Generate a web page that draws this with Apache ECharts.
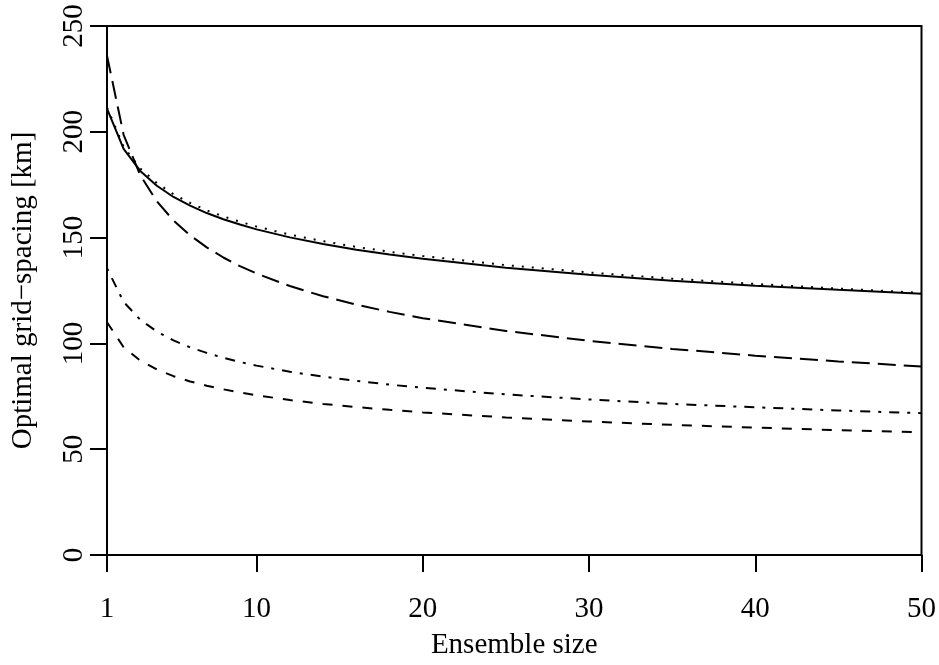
<!DOCTYPE html>
<html>
<head>
<meta charset="utf-8">
<script src="https://cdn.jsdelivr.net/npm/echarts@6/dist/echarts.min.js"></script>
<style>
html,body{margin:0;padding:0;background:#fff;}
#chart{width:939px;height:665px;}
</style>
</head>
<body>
<div id="chart"></div>
<script>
// Ensemble sizes (x)
var ensembleSizes = [1,2,3,4,5,6,7,8,9,10,12,14,16,18,20,25,30,35,40,45,50];
// Series values (optimal grid-spacing, km)
var solidValues    = [211,191.9,181.5,174.5,169.2,165.1,161.6,158.7,156.2,153.9,150.1,147.0,144.3,142.0,140.0,135.8,132.4,129.6,127.3,125.3,123.5];
var dottedValues   = [211.5,193,182.7,175.8,170.5,166.4,162.9,160.0,157.5,155.2,151.4,148.3,145.6,143.3,141.3,137.0,133.5,130.6,128.1,125.9,123.9];
var longdashValues = [236,198.6,179.5,167.1,158.1,151.1,145.4,140.6,136.5,133.0,127.1,122.3,118.3,114.9,111.9,105.9,101.2,97.4,94.2,91.5,89.1];
var dotdashValues  = [135.5,119.6,111.2,105.6,101.4,98.1,95.5,93.2,91.2,89.5,86.6,84.3,82.3,80.5,79.0,75.9,73.5,71.4,69.8,68.3,67.0];
var dashedValues   = [110,98.2,91.9,87.7,84.5,82.0,80.0,78.3,76.8,75.5,73.2,71.4,69.9,68.6,67.4,65.0,63.1,61.5,60.2,59.0,58.0];
// Tick labels
var xTicks = [1,10,20,30,40,50];
var yTicks = [0,50,100,150,200,250];

function pairs(vals){ return ensembleSizes.map(function(x,i){ return [x, vals[i]]; }); }

var FONT = 'Liberation Serif';
var FS = 29;
var chart = echarts.init(document.getElementById('chart'), null, {renderer:'canvas'});
function mk(vals, lt){
  return {type:'line', data:pairs(vals), showSymbol:false, symbol:'none', animation:false, silent:true,
    lineStyle:{color:'#000', width:2, type:lt}};
}
chart.setOption({
  animation:false,
  backgroundColor:'#fff',
  grid:{left:107, right:17, top:26, bottom:110, show:true, borderColor:'#000', borderWidth:2, backgroundColor:'transparent'},
  xAxis:{type:'value', min:1, max:50,
    name:'Ensemble size', nameLocation:'middle', nameGap:76,
    nameTextStyle:{fontFamily:FONT, fontSize:FS, color:'#000'},
    axisLine:{show:true, lineStyle:{color:'#000', width:2}},
    axisTick:{show:true, inside:false, length:17, lineStyle:{color:'#000', width:2}, customValues:xTicks},
    axisLabel:{fontFamily:FONT, fontSize:FS, color:'#000', margin:40, customValues:xTicks},
    splitLine:{show:false}},
  yAxis:{type:'value', min:0, max:250, interval:50,
    name:'Optimal grid\u2212spacing [km]', nameLocation:'middle', nameGap:69, nameRotate:90,
    nameTextStyle:{fontFamily:FONT, fontSize:FS, color:'#000'},
    axisLine:{show:true, lineStyle:{color:'#000', width:2}},
    axisTick:{show:true, inside:false, length:17, lineStyle:{color:'#000', width:2}, customValues:yTicks},
    axisLabel:{fontFamily:FONT, fontSize:FS, color:'#000', margin:18, rotate:90, customValues:yTicks},
    splitLine:{show:false}},
  series:[
    mk(solidValues,'solid'),
    mk(dottedValues,[2,8]),
    mk(longdashValues,[18,8]),
    mk(dotdashValues,[3,8,10,8]),
    mk(dashedValues,[10,10])
  ]
});
</script>
</body>
</html>
